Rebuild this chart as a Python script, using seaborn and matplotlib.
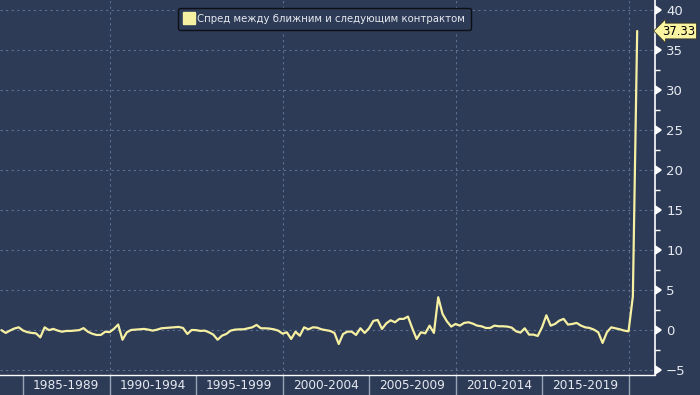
import numpy as np
import pandas as pd
import matplotlib
matplotlib.use("Agg")
import matplotlib.pyplot as plt
import matplotlib.transforms as mtransforms
from matplotlib.lines import Line2D
import seaborn as sns

# ---------------- data (quarterly, from Q4 1983) ----------------
start_date = "1983-10-01"
spread = [
    0.0, -0.35, -0.05, 0.2, 0.35, -0.05, -0.25, -0.35, -0.4, -0.9,
    0.35, 0.0, 0.15, -0.05, -0.2, -0.1, -0.1, -0.05, 0.0, 0.25,
    -0.2, -0.45, -0.6, -0.6, -0.2, -0.25, 0.15, 0.7, -1.2, -0.27,
    0.02, 0.06, 0.1, 0.15, 0.06, -0.06, 0.06, 0.23, 0.27, 0.31,
    0.35, 0.4, 0.27, -0.48, 0.02, 0.0, -0.1, -0.06, -0.27, -0.56,
    -1.2, -0.69, -0.48, -0.06, 0.06, 0.1, 0.1, 0.23, 0.35, 0.65,
    0.23, 0.23, 0.19, 0.1, -0.06, -0.44, -0.27, -1.1, -0.2, -0.7,
    0.35, 0.1, 0.35, 0.31, 0.1, 0.0, -0.1, -0.35, -1.73, -0.48,
    -0.19, -0.19, -0.6, 0.23, -0.35, 0.23, 1.15, 1.27, 0.15, 0.85,
    1.23, 0.98, 1.4, 1.4, 1.69, 0.23, -1.1, -0.27, -0.4, 0.56,
    -0.35, 4.1, 2.02, 1.1, 0.44, 0.77, 0.56, 0.9, 0.98, 0.81,
    0.56, 0.48, 0.27, 0.27, 0.56, 0.48, 0.48, 0.44, 0.31, -0.15,
    -0.31, 0.23, -0.56, -0.56, -0.73, 0.35, 1.85, 0.56, 0.77, 1.19,
    1.4, 0.69, 0.77, 0.9, 0.56, 0.35, 0.27, 0.06, -0.27, -1.6,
    -0.27, 0.35, 0.23, 0.1, -0.06, -0.15, 4.2, 37.33,
]
band_edges = [1985, 1990, 1995, 2000, 2005, 2010, 2015, 2020]
band_labels = ["1985-1989", "1990-1994", "1995-1999", "2000-2004",
               "2005-2009", "2010-2014", "2015-2019"]
grid_years = [1990, 2000, 2010, 2020]
y_ticks = [-5, 0, 5, 10, 15, 20, 25, 30, 35, 40]
series_name = "Спред между ближним и следующим контрактом"
last_label = "37.33"

dates = pd.date_range(start_date, periods=len(spread), freq="QS")
df = pd.DataFrame({
    "t": dates.year + (dates.month - 1) / 12.0,
    "spread": spread,
})

# ---------------- style ----------------
BG = "#2d3b57"
LINE = "#f6f0a2"
TXT = "#e6e9ef"
GRID = "#5d7191"

sns.set_theme(style="dark")
plt.rcParams["font.family"] = ["DejaVu Sans"]

fig = plt.figure(figsize=(7.0, 3.95), dpi=100, facecolor=BG)
ax = fig.add_axes([0.0, 20 / 395, 655 / 700, 375 / 395])
ax.set_facecolor(BG)

sns.lineplot(data=df, x="t", y="spread", ax=ax, color=LINE, linewidth=1.6,
             legend=False)

ax.set_xlim(1983.67, 2021.53)
ax.set_ylim(-5.6, 41.2)
ax.set_xlabel("")
ax.set_ylabel("")

# grid
for yv in y_ticks:
    ax.axhline(yv, color=GRID, linestyle=(0, (2, 3)), linewidth=0.8, zorder=0)
for xv in grid_years:
    ax.axvline(xv, color=GRID, linestyle=(0, (2, 3)), linewidth=0.8, zorder=0)
ax.grid(False)

# spines
for s in ["top", "left"]:
    ax.spines[s].set_visible(False)
ax.spines["right"].set_color("white")
ax.spines["bottom"].set_color("white")
ax.spines["right"].set_linewidth(1.2)
ax.spines["bottom"].set_linewidth(1.0)

# y axis on right with caret ticks
ax.yaxis.tick_right()
ax.set_yticks(y_ticks)
ax.set_yticks([v + 2.5 for v in y_ticks[:-1]], minor=True)
ax.tick_params(axis="y", which="major", colors=TXT, labelsize=9.5, pad=8,
               length=0, right=True, left=False)
ax.tick_params(axis="y", which="minor", colors="white", length=3.5, width=1,
               direction="out", right=True, left=False)
for tk in ax.yaxis.get_major_ticks():
    tk.tick2line.set_marker(9)  # caret right, centred at base
    tk.tick2line.set_markersize(5.5)
    tk.tick2line.set_markerfacecolor("white")
    tk.tick2line.set_markeredgecolor("white")
    tk.tick2line.set_visible(True)
for lab in ax.get_yticklabels():
    lab.set_color(TXT)

# x axis: band separators + centered labels
ax.set_xticks(band_edges)
ax.set_xticklabels([""] * len(band_edges))
ax.set_xticks([e + 2.5 for e in band_edges[:-1]], minor=True)
ax.set_xticklabels(band_labels, minor=True)
ax.tick_params(axis="x", which="major", length=21, width=1, color="#9aa3b3",
               direction="out", bottom=True)
ax.tick_params(axis="x", which="minor", length=0, labelsize=8.7,
               labelcolor=TXT, pad=3, bottom=True)

# legend
handle = Line2D([], [], marker="s", color=LINE, linestyle="none", markersize=8)
leg = ax.legend([handle], [series_name], loc="upper center",
                bbox_to_anchor=(0.495, 0.993), fontsize=7.3, frameon=True,
                fancybox=True, facecolor=BG, edgecolor="#0d0f14",
                handletextpad=0.3, borderpad=0.6, handlelength=1.0,
                framealpha=1.0)
for txt in leg.get_texts():
    txt.set_color(TXT)
leg.get_frame().set_linewidth(1.0)

# last value label
trans = mtransforms.blended_transform_factory(ax.transAxes, ax.transData)
ax.annotate(last_label, xy=(1.0, spread[-1]), xycoords=trans,
            xytext=(5, 0), textcoords="offset points", ha="left", va="center",
            fontsize=8.3, color="black",
            bbox=dict(boxstyle="larrow,pad=0.12", fc="#fbf4a0", ec="#3a3a2a",
                      lw=0.6),
            annotation_clip=False)

fig.savefig("out.png", dpi=100, facecolor=BG)
